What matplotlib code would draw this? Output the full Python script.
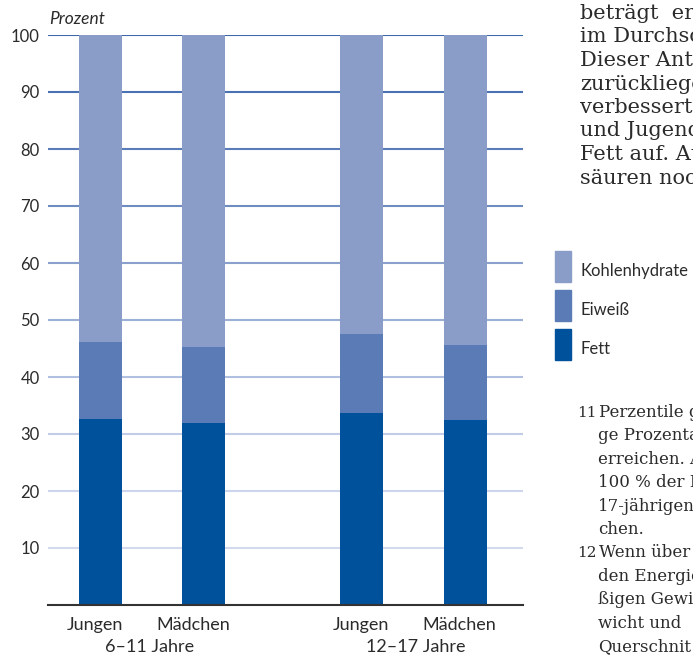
import matplotlib
matplotlib.use("Agg")
import matplotlib.pyplot as plt
from matplotlib.patches import Rectangle

# data (percent of energy intake)
groups = ["6–11 Jahre", "12–17 Jahre"]
categories = ["Jungen", "Mädchen", "Jungen", "Mädchen"]
fett = [32.6, 31.9, 33.7, 32.5]
eiweiss = [13.5, 13.4, 13.8, 13.1]
kohlenhydrate = [53.9, 54.7, 52.5, 54.4]
yticks = [10, 20, 30, 40, 50, 60, 70, 80, 90, 100]

body_lines = [
    "beträgt  erh",
    "im Durchsc",
    "Dieser Ante",
    "zurückliege",
    "verbessert.",
    "und Jugend",
    "Fett auf. Au",
    "säuren noch",
]
note_lines = [
    ("11", "Perzentile g"), (None, "ge Prozenta"), (None, "erreichen. A"),
    (None, "100 % der F"), (None, "17-jährigen"), (None, "chen."),
    ("12", "Wenn über"), (None, "den Energie"), (None, "ßigen Gewi"),
    (None, "wicht und"), (None, "Querschnit"),
]

c_kh, c_ei, c_fe = "#8a9cc8", "#5a7bb5", "#00519b"
grid_colors = ["#d3daee", "#ccd5eb", "#c1cce6", "#b1c0e0", "#9cafd6",
               "#8aa0cd", "#6f8cc2", "#5a7db9", "#4a72b2", "#3d69ab"]
text_col = "#2b2b2b"
sans = "Lato"
serif = "DejaVu Serif"

W, H = 693, 656
fig = plt.figure(figsize=(W / 100, H / 100), dpi=100)


def fx(x):
    return x / W


def fy(y):
    return 1 - y / H


ax = fig.add_axes([fx(48), fy(605), fx(475), 570 / H])
ax.set_xlim(0, 475)
ax.set_ylim(0, 100)

for v, c in zip(yticks, grid_colors):
    ax.axhline(v, color=c, lw=1.5, zorder=1)

xpos = [52.5, 155.5, 313.5, 417.5]
bw = 43
ax.bar(xpos, fett, bw, color=c_fe, zorder=2)
ax.bar(xpos, eiweiss, bw, bottom=fett, color=c_ei, zorder=2)
bottom2 = [a + b for a, b in zip(fett, eiweiss)]
ax.bar(xpos, kohlenhydrate, bw, bottom=bottom2, color=c_kh, zorder=2)

for s in ["top", "right", "left"]:
    ax.spines[s].set_visible(False)
ax.spines["bottom"].set_color("#333333")
ax.spines["bottom"].set_linewidth(1.5)
ax.set_xticks([])
ax.set_yticks(yticks)
ax.set_yticklabels([str(v) for v in yticks], fontfamily=sans, fontsize=12,
                   color=text_col)
ax.tick_params(axis="y", length=0, pad=6)

# category and group labels
lab_x = [47, 145.5, 313, 411.5]
for x, lab in zip(lab_x, categories):
    ax.text(x, -0.035, lab, transform=ax.get_xaxis_transform(), ha="center",
            va="center", fontfamily=sans, fontsize=13, color=text_col)
for x, g in zip([101.5, 367.5], groups):
    ax.text(x, -0.074, g, transform=ax.get_xaxis_transform(), ha="center",
            va="center", fontfamily=sans, fontsize=13, color=text_col)

fig.text(fx(49), fy(19), "Prozent", fontfamily=sans, style="italic",
         fontsize=12.5, color=text_col, ha="left", va="center")

# legend
leg = [("Kohlenhydrate", c_kh), ("Eiweiß", c_ei), ("Fett", c_fe)]
for i, (lab, c) in enumerate(leg):
    top = 251 + 39 * i
    fig.add_artist(Rectangle((fx(555), fy(top + 31)), 16 / W, 31 / H,
                             transform=fig.transFigure, color=c))
    fig.text(fx(581), fy(top + 20), lab, fontfamily=sans, fontsize=12,
             color=text_col, ha="left", va="center")

# running text on the right
for i, line in enumerate(body_lines):
    fig.text(fx(580), fy(19 + 23.5 * i), line, fontfamily=serif, fontsize=15,
             color=text_col, ha="left", va="baseline")

for i, (num, line) in enumerate(note_lines):
    yb = fy(417 + 23.4 * i)
    if num:
        fig.text(fx(577), yb, num, fontfamily=serif, fontsize=11,
                 color=text_col, ha="left", va="baseline")
        fig.text(fx(599), yb, line, fontfamily=serif, fontsize=12,
                 color=text_col, ha="left", va="baseline")
    else:
        fig.text(fx(598), yb, line, fontfamily=serif, fontsize=12,
                 color=text_col, ha="left", va="baseline")

fig.savefig("out.png", dpi=100)
